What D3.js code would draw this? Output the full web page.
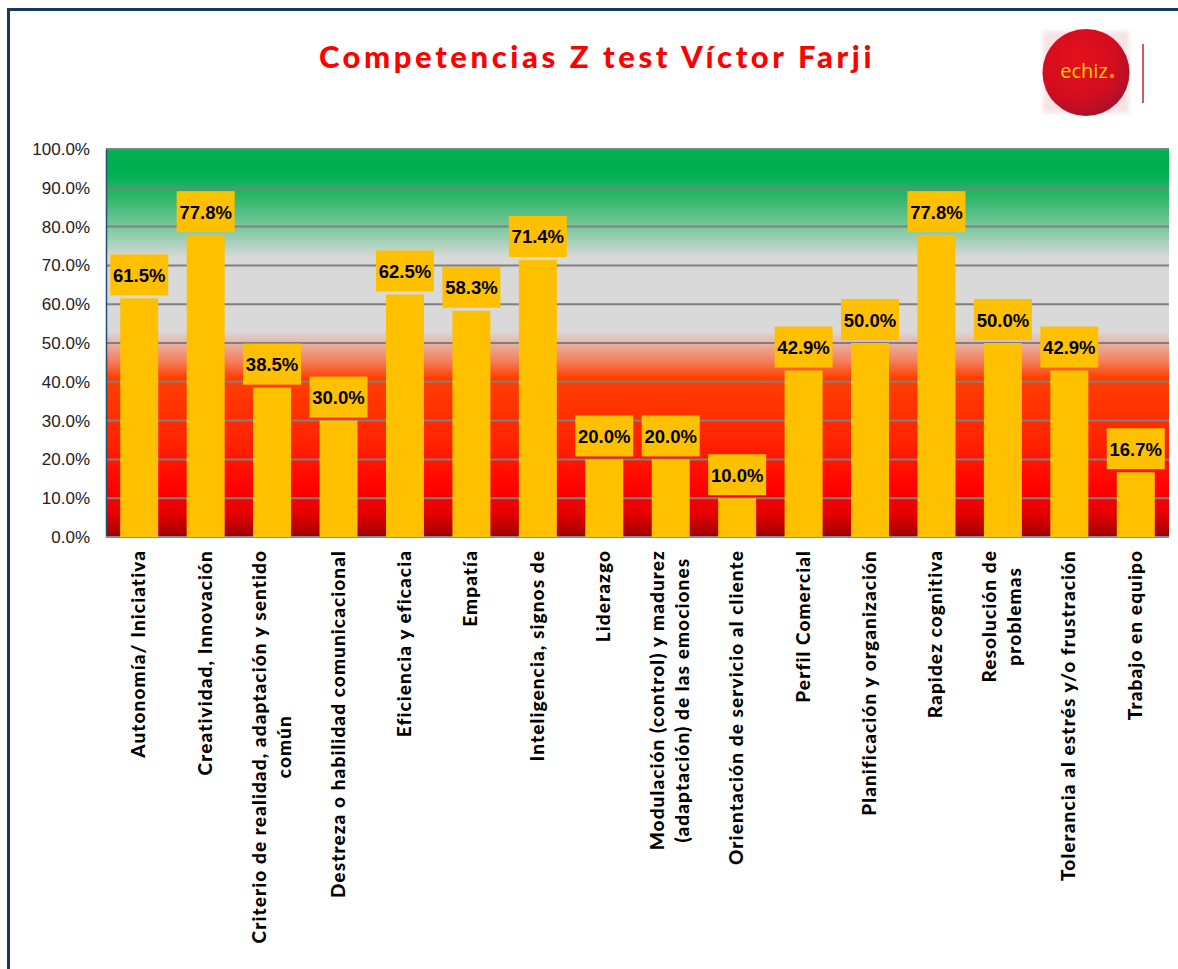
<!DOCTYPE html>
<html>
<head>
<meta charset="utf-8">
<script src="https://cdn.jsdelivr.net/npm/d3@7/dist/d3.min.js"></script>
<style>
  html, body { margin: 0; padding: 0; background: #fff; }
  svg { display: block; }
</style>
</head>
<body>
<svg id="chart" width="1178" height="969"></svg>
<script>
// ---- Data ----
const title = "Competencias Z test Víctor Farji";
const categories = [
  ["Autonomía/ Iniciativa"],
  ["Creatividad, Innovación"],
  ["Criterio de realidad, adaptación y sentido", "común"],
  ["Destreza o habilidad comunicacional"],
  ["Eficiencia y eficacia"],
  ["Empatía"],
  ["Inteligencia, signos de"],
  ["Liderazgo"],
  ["Modulación  (control) y madurez", "(adaptación) de las emociones"],
  ["Orientación de servicio al cliente"],
  ["Perfil Comercial"],
  ["Planificación y organización"],
  ["Rapidez cognitiva"],
  ["Resolución de", "problemas"],
  ["Tolerancia al estrés  y/o frustración"],
  ["Trabajo en equipo"]
];
const values = [0.615, 0.778, 0.385, 0.300, 0.625, 0.583, 0.714, 0.200, 0.200, 0.100, 0.429, 0.500, 0.778, 0.500, 0.429, 0.167];
const yTicks = [0, 0.1, 0.2, 0.3, 0.4, 0.5, 0.6, 0.7, 0.8, 0.9, 1.0];

// ---- Layout ----
const svg = d3.select("#chart");
const plot = { left: 106, right: 1169, top: 149, bottom: 537 };

const x = d3.scaleBand()
  .domain(d3.range(categories.length))
  .range([plot.left, plot.right])
  .paddingInner(0.428)
  .paddingOuter(0.214);

const y = d3.scaleLinear().domain([0, 1]).range([plot.bottom, plot.top]);
const fmt = d3.format(".1%");

// Frame
svg.append("rect")
  .attr("x", 8.5).attr("y", 9.5)
  .attr("width", 1200).attr("height", 1000)
  .attr("fill", "none")
  .attr("stroke", "#17375e")
  .attr("stroke-width", 3);

// Title
svg.append("text")
  .attr("x", 597).attr("y", 68)
  .attr("text-anchor", "middle")
  .attr("font-family", "Lato, 'DejaVu Sans', sans-serif")
  .attr("font-weight", 900)
  .attr("font-size", 31)
  .attr("letter-spacing", 3.6)
  .attr("fill", "#ff0000")
  .text(title);

// Logo
const defs = svg.append("defs");
const rg = defs.append("radialGradient").attr("id", "logoGrad")
  .attr("cx", "40%").attr("cy", "35%").attr("r", "70%");
rg.append("stop").attr("offset", "0%").attr("stop-color", "#e8101c");
rg.append("stop").attr("offset", "65%").attr("stop-color", "#d10d1f");
rg.append("stop").attr("offset", "100%").attr("stop-color", "#a8102a");
const blur = defs.append("filter").attr("id", "soft");
blur.append("feGaussianBlur").attr("stdDeviation", 2);
svg.append("rect").attr("x", 1043).attr("y", 31).attr("width", 86).attr("height", 82)
  .attr("fill", "#f3dde0").attr("opacity", 0.8).attr("filter", "url(#soft)");
svg.append("circle").attr("cx", 1086).attr("cy", 72.5).attr("r", 43.5)
  .attr("fill", "url(#logoGrad)");
svg.append("text").attr("x", 1084).attr("y", 78)
  .attr("text-anchor", "middle")
  .attr("font-family", "'Open Sans', sans-serif")
  .attr("font-size", 20)
  .attr("fill", "#f3d400")
  .text("echiz");
svg.append("circle").attr("cx", 1112).attr("cy", 76).attr("r", 2.2).attr("fill", "#f08a20");
svg.append("line").attr("x1", 1143).attr("x2", 1143).attr("y1", 44).attr("y2", 103)
  .attr("stroke", "#c0282d").attr("stroke-width", 1.5);

// Background gradient
const bg = defs.append("linearGradient").attr("id", "bgGrad")
  .attr("gradientUnits", "userSpaceOnUse")
  .attr("x1", 0).attr("x2", 0).attr("y1", plot.top).attr("y2", plot.bottom);
[
  [0.00, "#00b050"], [0.06, "#00b050"], [0.12, "#2bb567"], [0.20, "#78c89c"],
  [0.28, "#d9d9d9"], [0.47, "#d9d9d9"], [0.50, "#e8b4a6"], [0.55, "#f57a55"],
  [0.59, "#ff3f00"], [0.75, "#ff2500"], [0.88, "#ff0000"], [0.94, "#e60000"],
  [1.00, "#9c0000"]
].forEach(([o, c]) => bg.append("stop").attr("offset", o).attr("stop-color", c));

svg.append("rect")
  .attr("x", plot.left).attr("y", plot.top)
  .attr("width", plot.right - plot.left).attr("height", plot.bottom - plot.top)
  .attr("fill", "url(#bgGrad)");

// Gridlines
svg.append("g").selectAll("line").data(yTicks.filter(d => d > 0)).join("line")
  .attr("x1", plot.left).attr("x2", plot.right)
  .attr("y1", d => y(d)).attr("y2", d => y(d))
  .attr("stroke", "#808080").attr("stroke-width", 2);

// Y axis
const yAxis = svg.append("g")
  .attr("transform", `translate(${plot.left},0)`)
  .call(d3.axisLeft(y).tickValues(yTicks).tickFormat(fmt).tickSize(0).tickPadding(16));
yAxis.select(".domain").attr("stroke", "#1f4e79").attr("stroke-width", 1.5);
yAxis.selectAll("text")
  .attr("font-family", "'Liberation Sans', Arial, sans-serif")
  .attr("font-size", 17)
  .attr("fill", "#222");

// Bottom axis line
svg.append("line")
  .attr("x1", plot.left).attr("x2", plot.right)
  .attr("y1", plot.bottom).attr("y2", plot.bottom)
  .attr("stroke", "#8c8c8c").attr("stroke-width", 2);

// Bars
svg.append("g").selectAll("rect").data(values).join("rect")
  .attr("x", (d, i) => x(i))
  .attr("y", d => y(d))
  .attr("width", x.bandwidth())
  .attr("height", d => y(0) - y(d))
  .attr("fill", "#ffc000");

// Data labels
const lab = svg.append("g").selectAll("g").data(values).join("g")
  .attr("transform", (d, i) => `translate(${x(i) + x.bandwidth() / 2},${y(d) - 3})`);
lab.append("rect")
  .attr("x", -29).attr("y", -41).attr("width", 58).attr("height", 41)
  .attr("fill", "#ffc000");
lab.append("text")
  .attr("y", -13.5)
  .attr("text-anchor", "middle")
  .attr("font-family", "'Liberation Sans', Arial, sans-serif")
  .attr("font-weight", "bold")
  .attr("font-size", 18.5)
  .attr("fill", "#000")
  .text(d => fmt(d));

// X labels
const lineH = 25;
const xl = svg.append("g").selectAll("g").data(categories).join("g");
xl.each(function(lines, i) {
  const g = d3.select(this);
  const cx = x(i) + x.bandwidth() / 2;
  const n = lines.length;
  const texts = lines.map((t, k) => g.append("text")
    .attr("text-anchor", "middle")
    .attr("font-family", "Lato, sans-serif")
    .attr("font-weight", 900)
    .attr("font-size", 19)
    .attr("letter-spacing", 1.1)
    .attr("fill", "#000")
    .text(t));
  const maxW = d3.max(texts, t => t.node().getComputedTextLength());
  const cy = 550 + maxW / 2;
  texts.forEach((t, k) => {
    const off = (k - (n - 1) / 2) * lineH + 6;
    t.attr("transform", `translate(${cx + off},${cy}) rotate(-90)`);
  });
});
</script>
</body>
</html>
